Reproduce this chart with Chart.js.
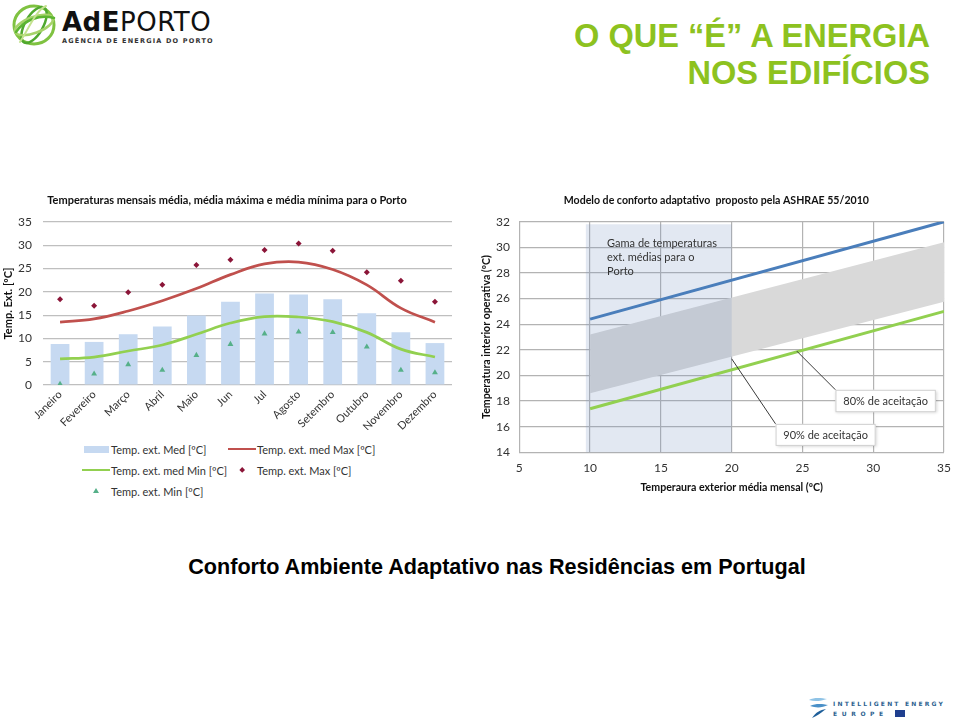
<!DOCTYPE html>
<html><head><meta charset="utf-8">
<script src="https://cdn.jsdelivr.net/npm/chart.js@4.4.1/dist/chart.umd.min.js"></script>
<style>
html,body{margin:0;padding:0;background:#fff;width:960px;height:720px;overflow:hidden;position:relative;font-family:'Liberation Sans',Arial,sans-serif;}
#title{position:absolute;right:30px;top:17px;text-align:right;color:#8dc21f;font:bold 32.6px/37px 'Liberation Sans',Arial,sans-serif;}
#subtitle{position:absolute;left:0;width:994px;top:554.4px;text-align:center;font:bold 21.6px/25px 'Liberation Sans',Arial,sans-serif;color:#000;}
#c1{position:absolute;left:0;top:185px;}
#c2{position:absolute;left:480px;top:185px;}
.leg{position:absolute;font:11px/13px Lato,sans-serif;color:#333;white-space:nowrap;}
.sym{position:absolute;}
#logo{position:absolute;left:10px;top:2px;}
#logoText{position:absolute;left:62px;top:8px;font:26px/28px 'DejaVu Sans',sans-serif;color:#111;letter-spacing:0.5px;}
#logoText b{font-weight:bold;}
#logoSub{position:absolute;left:62px;top:37px;font:bold 6.5px/8px 'DejaVu Sans',sans-serif;color:#333;letter-spacing:1.2px;}
#iee{position:absolute;left:808px;top:696px;}
#ieeT1{position:absolute;left:833px;top:700px;font:bold 6px/7px 'DejaVu Sans',sans-serif;color:#2d5f8f;letter-spacing:2.2px;}
#ieeT2{position:absolute;left:833px;top:710px;font:bold 6px/7px 'DejaVu Sans',sans-serif;color:#2d5f8f;letter-spacing:4.6px;}
#euflag{position:absolute;left:895px;top:710px;width:10px;height:7px;background:#1f3f8f;}
</style></head>
<body>
<svg id="logo" width="50" height="46" viewBox="0 0 50 46">
  <g fill="none" stroke-linecap="round">
    <ellipse cx="24" cy="23" rx="20" ry="19" stroke="#7fc241" stroke-width="3"/>
    <ellipse cx="24" cy="23" rx="9" ry="20" stroke="#4fa82e" stroke-width="2.5" transform="rotate(30 24 23)"/>
    <ellipse cx="24" cy="23" rx="20" ry="8" stroke="#a6d36a" stroke-width="2.5" transform="rotate(-20 24 23)"/>
    <path d="M6 30 C14 18 30 12 44 16" stroke="#5cb531" stroke-width="2.5"/>
    <path d="M10 40 C18 28 26 8 36 4" stroke="#c4e28f" stroke-width="2"/>
  </g>
</svg>
<div id="logoText"><b>AdE</b>PORTO</div>
<div id="logoSub">AGÊNCIA DE ENERGIA DO PORTO</div>
<div id="title">O QUE “É” A ENERGIA<br>NOS EDIFÍCIOS</div>
<canvas id="c1" width="456" height="245"></canvas>
<canvas id="c2" width="480" height="315"></canvas>
<div id="legend1"></div>
<div id="subtitle">Conforto Ambiente Adaptativo nas Residências em Portugal</div>
<svg id="iee" width="22" height="24" viewBox="0 0 22 24">
  <path d="M1 4 C6 1 14 2 19 3 C13 5 7 6 1 4 Z" fill="#8fc3e6"/>
  <path d="M2 10 C8 7 15 8 20 9 C14 12 8 12 2 10 Z" fill="#4a90c8"/>
  <path d="M4 22 C8 16 12 14 18 13 C13 17 9 20 4 22 Z" fill="#1f5f9a"/>
</svg>
<div id="ieeT1">INTELLIGENT ENERGY</div>
<div id="ieeT2">EUROPE</div>
<div id="euflag"></div>
<script>
// ---------- Left chart data ----------
const months = ['Janeiro','Fevereiro','Março','Abril','Maio','Jun','Jul','Agosto','Setembro','Outubro','Novembro','Dezembro'];
const tempMed    = [8.8, 9.25, 10.9, 12.55, 14.9, 17.85, 19.65, 19.45, 18.4, 15.4, 11.3, 9.0];
const tempMedMax = [13.5, 14.2, 15.9, 18.1, 20.7, 23.7, 26.0, 26.4, 24.8, 21.5, 16.5, 13.5];
const tempMedMin = [5.6, 6.0, 7.3, 8.6, 10.9, 13.3, 14.7, 14.6, 13.6, 11.3, 7.7, 6.0];
const tempMax    = [18.4, 17.0, 19.9, 21.5, 25.75, 26.9, 29.0, 30.4, 28.8, 24.2, 22.4, 17.9];
const tempMin    = [0.2, 2.4, 4.4, 3.2, 6.4, 8.75, 11.0, 11.4, 11.3, 8.2, 3.2, 2.65];
const leftTicks  = [0, 5, 10, 15, 20, 25, 30, 35];
const leftLabels = ['Temp. ext. Med [ºC]','Temp. ext. med Max [ºC]','Temp. ext. med Min [ºC]','Temp. ext. Max [ºC]','Temp. ext. Min [ºC]'];

// ---------- Right chart data ----------
const extTempEnds   = [10, 35];        // exterior mean temperature at line ends
const limit80Upper  = [24.4, 32.0];
const limit80Lower  = [17.4, 25.0];
const band90Upper   = [23.2, 30.4];
const band90Lower   = [18.6, 25.75];
const portoRange    = [9.7, 20];       // range of mean ext. temperatures in Porto
const portoTop      = 31.8;
const rightXTicks   = [5, 10, 15, 20, 25, 30, 35];
const rightYTicks   = [14, 16, 18, 20, 22, 24, 26, 28, 30, 32];
const portoNote     = ['Gama de temperaturas', 'ext. médias para o', 'Porto'];
const portoNotePos  = [11.2, 30.05];
const acceptNames   = ['80% de aceitação', '90% de aceitação'];
const acceptBoxes   = [[27.33, 18.88, 34.42, 17.13], [23.1, 16.22, 30.17, 14.5]];
const acceptTargets = [[24.6, 21.9], [20.0, 21.3]];

const pts = ys => extTempEnds.map((x, i) => ({x, y: ys[i]}));

// ---------- Left chart ----------
const COL = {bar:'#c6d9f1', red:'#c0504d', green:'#92d050', dia:'#8b1538', tri:'#56b089'};
const chart1 = new Chart(document.getElementById('c1'), {
  data: {
    labels: months,
    datasets: [
      {type:'bar', label:leftLabels[0], data:tempMed, backgroundColor:COL.bar, barPercentage:0.55, categoryPercentage:1, order:5},
      {type:'line', label:leftLabels[1], data:tempMedMax, borderColor:COL.red, borderWidth:2.7, pointRadius:0, tension:0.4, order:2},
      {type:'line', label:leftLabels[2], data:tempMedMin, borderColor:COL.green, borderWidth:2.7, pointRadius:0, tension:0.4, order:2},
      {type:'line', label:leftLabels[3], data:tempMax, showLine:false, pointStyle:'rectRot', pointRadius:3, backgroundColor:COL.dia, borderColor:COL.dia, borderWidth:0, order:1},
      {type:'line', label:leftLabels[4], data:tempMin, showLine:false, pointStyle:'triangle', pointRadius:3.4, backgroundColor:COL.tri, borderColor:COL.tri, borderWidth:0, order:1}
    ]
  },
  options: {
    responsive:false, animation:false, devicePixelRatio:1,
    layout:{padding:{left:0, right:2, top:0, bottom:0}},
    plugins:{
      legend:{display:false}, tooltip:{enabled:false},
      title:{display:true, text:'Temperaturas mensais média, média máxima e média mínima para o Porto',
        font:{family:'Lato', size:11, weight:'bold'}, color:'#111', padding:{top:8.7, bottom:15.1}}
    },
    scales:{
      x:{grid:{display:false}, border:{display:false},
         ticks:{maxRotation:45, minRotation:45, autoSkip:false, font:{family:'Lato', size:11}, color:'#333', padding:-5},
         afterFit(s){ s.height = 45; }},
      y:{min:0, max:35, afterBuildTicks(s){ s.ticks = leftTicks.map(v => ({value:v})); },
         ticks:{font:{family:'Lato', size:12}, color:'#333', padding:11},
         grid:{color:'#bfbfbf', lineWidth:1.2, drawTicks:false}, border:{display:false},
         title:{display:true, text:'Temp. Ext. [ºC]', font:{family:'Lato', size:11, weight:'bold'}, color:'#111', padding:{top:1.4, bottom:0}},
         afterFit(s){ s.width = 43; }}
    }
  }
});

// HTML legend built from the chart datasets
(function(){
  const host = document.getElementById('legend1');
  const colLeft = [82, 228], rowTop = [442.5, 463.5, 484.5];
  chart1.data.datasets.forEach((ds, i) => {
    const r = Math.floor(i/2), c = i % 2;
    const sw = document.createElement('div');
    sw.className = 'sym';
    const cx = colLeft[c] + 14, cy = rowTop[r] + 6.5;
    if (ds.type === 'bar') {
      Object.assign(sw.style, {left:(cx-12.5)+'px', top:(cy-3.5)+'px', width:'25px', height:'7px', background:ds.backgroundColor});
    } else if (ds.showLine !== false) {
      Object.assign(sw.style, {left:(cx-14)+'px', top:(cy-1.3)+'px', width:'28px', height:'2.6px', background:ds.borderColor});
    } else if (ds.pointStyle === 'rectRot') {
      Object.assign(sw.style, {left:(cx-2.2)+'px', top:(cy-2.2)+'px', width:'4.4px', height:'4.4px', background:ds.backgroundColor, transform:'rotate(45deg)'});
    } else {
      Object.assign(sw.style, {left:(cx-3)+'px', top:(cy-3)+'px', width:'0', height:'0', borderLeft:'3px solid transparent', borderRight:'3px solid transparent', borderBottom:'5.5px solid '+ds.backgroundColor});
    }
    host.appendChild(sw);
    const t = document.createElement('div');
    t.className = 'leg';
    t.style.left = (colLeft[c] + 29) + 'px';
    t.style.top = rowTop[r] + 'px';
    t.textContent = ds.label;
    host.appendChild(t);
  });
})();

// ---------- Right chart ----------
const annoPlugin = {
  id:'annoPlugin',
  afterDatasetDraw(chart, args){
    if (args.index !== 2) return;
    const {ctx, scales:{x, y}} = chart;
    const x0 = x.getPixelForValue(portoRange[0]), x1 = x.getPixelForValue(portoRange[1]);
    const y0 = y.getPixelForValue(portoTop), y1 = y.getPixelForValue(y.min);
    ctx.save();
    ctx.fillStyle = 'rgba(120,146,192,0.21)';
    ctx.fillRect(x0, y0, x1 - x0, y1 - y0);
    ctx.restore();
  },
  afterDatasetsDraw(chart){
    const {ctx, scales:{x, y}} = chart;
    ctx.save();
    ctx.font = '11px Lato';
    ctx.fillStyle = '#333';
    ctx.textAlign = 'left';
    ctx.textBaseline = 'alphabetic';
    const nx = x.getPixelForValue(portoNotePos[0]), ny = y.getPixelForValue(portoNotePos[1]);
    portoNote.forEach((s, i) => ctx.fillText(s, nx, ny + i * 14));
    acceptNames.forEach((name, i) => {
      const b = acceptBoxes[i], t = acceptTargets[i];
      const bx0 = x.getPixelForValue(b[0]), by0 = y.getPixelForValue(b[1]);
      const bx1 = x.getPixelForValue(b[2]), by1 = y.getPixelForValue(b[3]);
      ctx.strokeStyle = '#3a3a3a'; ctx.lineWidth = 1;
      ctx.beginPath(); ctx.moveTo(bx0, by0); ctx.lineTo(x.getPixelForValue(t[0]), y.getPixelForValue(t[1])); ctx.stroke();
      ctx.save();
      ctx.shadowColor = 'rgba(0,0,0,0.18)'; ctx.shadowBlur = 3; ctx.shadowOffsetX = 1; ctx.shadowOffsetY = 1;
      ctx.fillStyle = '#fff';
      ctx.fillRect(bx0, by0, bx1 - bx0, by1 - by0);
      ctx.restore();
      ctx.strokeStyle = '#cfcfcf';
      ctx.strokeRect(bx0 + 0.5, by0 + 0.5, bx1 - bx0 - 1, by1 - by0 - 1);
      ctx.fillStyle = '#333';
      ctx.textAlign = 'center'; ctx.textBaseline = 'middle';
      ctx.fillText(name, (bx0 + bx1) / 2, (by0 + by1) / 2 + 0.5);
    });
    ctx.restore();
  }
};

new Chart(document.getElementById('c2'), {
  type:'line',
  data:{
    datasets:[
      {label:'80% limite superior', data:pts(limit80Upper), borderColor:'#4a7ebb', borderWidth:3, pointRadius:0, fill:false},
      {label:'80% limite inferior', data:pts(limit80Lower), borderColor:'#92d050', borderWidth:3, pointRadius:0, fill:false},
      {label:'90% superior', data:pts(band90Upper), borderWidth:0, borderColor:'rgba(0,0,0,0)', pointRadius:0, fill:'+1', backgroundColor:'#d9d9d9'},
      {label:'90% inferior', data:pts(band90Lower), borderWidth:0, borderColor:'rgba(0,0,0,0)', pointRadius:0, fill:false}
    ]
  },
  options:{
    responsive:false, animation:false, devicePixelRatio:1,
    layout:{padding:{left:0, right:7.3, top:0, bottom:0}},
    plugins:{
      legend:{display:false}, tooltip:{enabled:false},
      title:{display:true, text:'Modelo de conforto adaptativo  proposto pela ASHRAE 55/2010',
        font:{family:'Lato', size:10.6, weight:'bold'}, color:'#111', padding:{top:9, bottom:15}}
    },
    scales:{
      x:{type:'linear', min:5, max:35, afterBuildTicks(s){ s.ticks = rightXTicks.map(v => ({value:v})); },
         ticks:{font:{family:'Lato', size:12}, color:'#333', padding:9},
         grid:{color:'#b3b3b3', lineWidth:1.2, drawTicks:false}, border:{display:false},
         title:{display:true, text:'Temperaura exterior média mensal (ºC)', font:{family:'Lato', size:10.6, weight:'bold'}, color:'#111', padding:{top:0, bottom:5.7}},
         afterFit(s){ s.height = 47.7; }},
      y:{min:14, max:32, afterBuildTicks(s){ s.ticks = rightYTicks.map(v => ({value:v})); },
         ticks:{font:{family:'Lato', size:12}, color:'#333', padding:9.3},
         grid:{color:'#b3b3b3', lineWidth:1.2, drawTicks:false}, border:{display:false},
         title:{display:true, text:'Temperatura interior operativa (ºC)', font:{family:'Lato', size:10.6, weight:'bold'}, color:'#111', padding:{top:0.5, bottom:0}},
         afterFit(s){ s.width = 39.3; }}
    }
  },
  plugins:[annoPlugin]
});
</script>
</body></html>
